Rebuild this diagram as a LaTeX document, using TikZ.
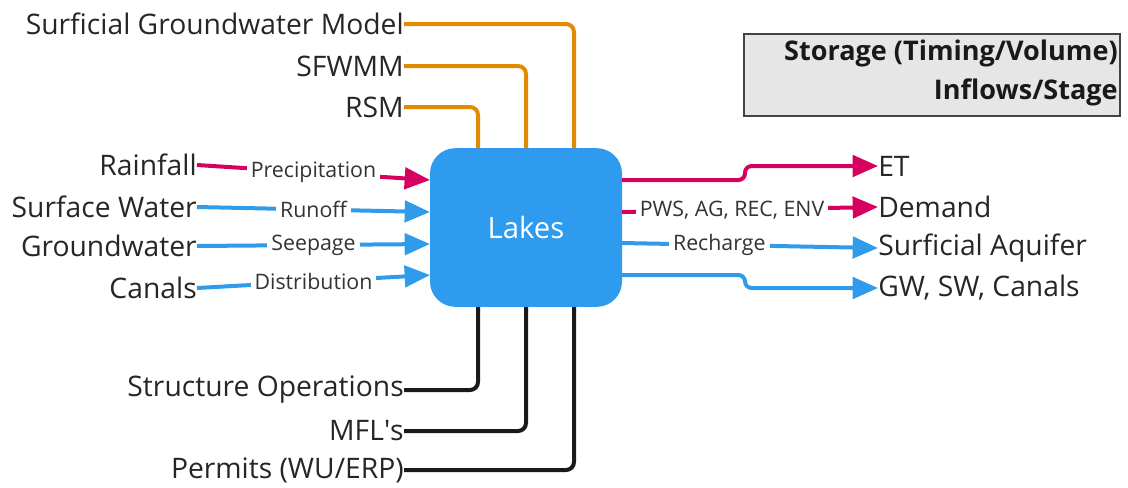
\documentclass[tikz,border=0pt]{standalone}
\usepackage{fontspec}
\setmainfont{Open Sans}
\usetikzlibrary{arrows.meta}
\definecolor{lakeblue}{HTML}{2E9BEE}
\definecolor{flowblue}{HTML}{2F9BEA}
\definecolor{flowpink}{HTML}{D6005F}
\definecolor{modelorange}{HTML}{E38B00}
\definecolor{opblack}{HTML}{1A1A1A}
\definecolor{legendgray}{HTML}{E6E6E6}
\definecolor{legendedge}{HTML}{444444}
\tikzset{
  bigtext/.style={inner sep=0pt, font=\fontsize{21.2}{24}\selectfont, text=black!85},
  smalltext/.style={fill=white, inner sep=3pt, font=\fontsize{16}{18}\selectfont, text=black!80},
  lakebox/.style={fill=lakeblue, rounded corners=19pt, minimum width=144pt, minimum height=119pt, text=white, font=\fontsize{22}{24}\selectfont},
  flow/.style={line width=3pt, -{Triangle[length=19pt,width=16pt]}},
  bluef/.style={flow, draw=flowblue},
  pinkf/.style={flow, draw=flowpink},
  modelline/.style={line width=3pt, draw=modelorange, rounded corners=6pt},
  opline/.style={line width=3pt, draw=opblack, rounded corners=6pt},
}
\begin{document}
\begin{tikzpicture}[x=0.75pt,y=-0.75pt]
\useasboundingbox (0,0) rectangle (1128,487);
% central box
\node[lakebox] (lakes) at (526,227.5) {Lakes};
% legend
\node[draw=legendedge, line width=1.5pt, fill=legendgray, minimum width=282pt, minimum height=61pt, inner sep=0pt] (legend) at (931.5,75) {};
\node[anchor=east, inner sep=0pt, align=right, font=\bfseries\fontsize{20.3}{29}\selectfont, text=black!90] (legendtext) at (1118,73) {Storage (Timing/Volume)\\Inflows/Stage};
% model labels (top)
\node[bigtext, anchor=east] (sgm) at (404,24) {Surficial Groundwater Model};
\node[bigtext, anchor=east] (sfwmm) at (404,66) {SFWMM};
\node[bigtext, anchor=east] (rsm) at (404,107) {RSM};
\coordinate (t1) at (478,148);
\coordinate (t2) at (526,148);
\coordinate (t3) at (574,148);
\draw[modelline] (rsm.east) -| (t1);
\draw[modelline] (sfwmm.east) -| (t2);
\draw[modelline] (sgm.east) -| (t3);
% operations (bottom)
\node[bigtext, anchor=east] (ops) at (404,390) {Structure Operations};
\node[bigtext, anchor=east] (mfl) at (404,431) {MFL\textquotesingle s};
\node[bigtext, anchor=east] (perm) at (404,470) {Permits (WU/ERP)};
\coordinate (b1) at (478,307);
\coordinate (b2) at (526,307);
\coordinate (b3) at (574,307);
\draw[opline] (ops.east) -| (b1);
\draw[opline] (mfl.east) -| (b2);
\draw[opline] (perm.east) -| (b3);
% inputs (left)
\node[bigtext, anchor=east] (rain) at (197,165) {Rainfall};
\node[bigtext, anchor=east] (sw) at (197,207) {Surface Water};
\node[bigtext, anchor=east] (gw) at (197,246) {Groundwater};
\node[bigtext, anchor=east] (can) at (197,288) {Canals};
\coordinate (l1) at (430,180);
\coordinate (l2) at (430,212);
\coordinate (l3) at (430,244);
\coordinate (l4) at (430,275);
\draw[pinkf] (rain.east) -- node[smalltext] (lp) {Precipitation} (l1);
\draw[bluef] (sw.east) -- node[smalltext] (lr) {Runoff} (l2);
\draw[bluef] (gw.east) -- node[smalltext] (ls) {Seepage} (l3);
\draw[bluef] (can.east) -- node[smalltext] (ld) {Distribution} (l4);
% outputs (right)
\node[bigtext, anchor=west] (et) at (878,166) {ET};
\node[bigtext, anchor=west] (dem) at (878,207) {Demand};
\node[bigtext, anchor=west] (sa) at (878,248) {Surficial Aquifer};
\node[bigtext, anchor=west] (gsc) at (878,288) {GW, SW, Canals};
\coordinate (r1) at (622,180);
\coordinate (r2) at (622,212);
\coordinate (r3) at (622,243);
\coordinate (r4) at (622,275);
\draw[pinkf, rounded corners=5pt] (r1) -- (745,180) -- (745,166) -- (et.west);
\draw[pinkf] (r2) -- node[smalltext, pos=0.43] (ld2) {PWS, AG, REC, ENV} (dem.west);
\draw[bluef] (r3) -- node[smalltext, pos=0.38] (lre) {Recharge} (sa.west);
\draw[bluef, rounded corners=5pt] (r4) -- (745,275) -- (745,288) -- (gsc.west);
\end{tikzpicture}
\end{document}
